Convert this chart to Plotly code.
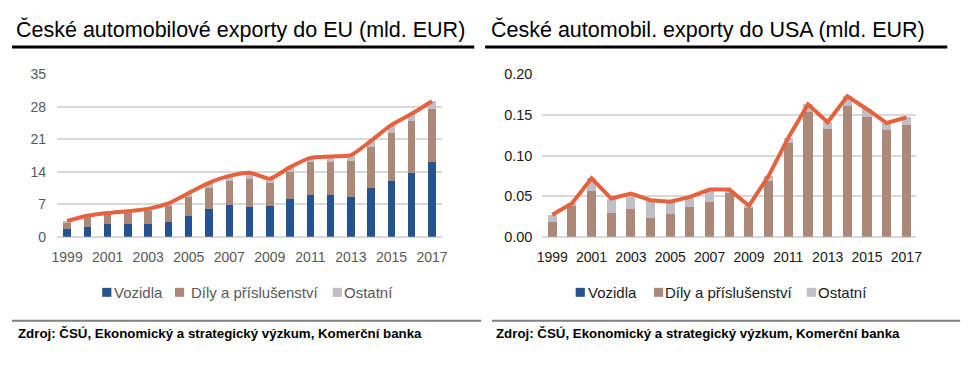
import plotly.graph_objects as go

W, H = 971, 365
OFF = 8  # page body margin in the browser

years = list(range(1999, 2018))
tick_years = list(range(1999, 2018, 2))

eu_vozidla = [1.6, 2.0, 2.8, 2.8, 2.8, 3.2, 4.4, 5.9, 6.8, 6.3, 6.7, 8.2, 9.0, 9.0, 8.6, 10.5, 12.1, 13.7, 16.0]
eu_dily = [1.3, 2.0, 1.9, 2.3, 2.8, 3.5, 4.2, 4.6, 5.3, 6.2, 4.9, 5.7, 7.0, 7.0, 7.7, 8.9, 10.3, 11.2, 11.6]
eu_ostatni = [0.5, 0.5, 0.4, 0.4, 0.4, 0.5, 0.8, 1.1, 1.0, 1.3, 0.9, 1.1, 1.0, 1.3, 1.3, 1.3, 1.7, 1.6, 1.6]

us_vozidla = [0.0] * 19
us_dily = [0.018, 0.038, 0.056, 0.029, 0.034, 0.023, 0.028, 0.036, 0.043, 0.054, 0.036, 0.069, 0.115, 0.153, 0.133, 0.161, 0.148, 0.131, 0.138]
us_ostatni = [0.009, 0.003, 0.016, 0.018, 0.019, 0.022, 0.015, 0.013, 0.015, 0.004, 0.002, 0.006, 0.007, 0.010, 0.008, 0.012, 0.009, 0.009, 0.009]

eu_ticks = [0, 7, 14, 21, 28, 35]
us_ticks = [0.0, 0.05, 0.10, 0.15, 0.20]
us_ticktext = ["0.00", "0.05", "0.10", "0.15", "0.20"]

series_names = ["Vozidla", "Díly a příslušenství", "Ostatní"]
colors = ["#255391", "#ac8878", "#c0bfc6"]
line_color = "#e4623d"

titles = ["České automobilové exporty do EU (mld. EUR)", "České automobil. exporty do USA (mld. EUR)"]
source = "Zdroj: ČSÚ, Ekonomický a strategický výzkum, Komerční banka"

FONT = "Liberation Sans, Arial, sans-serif"


def px(x):
    return (x - OFF) / W


def py(y):
    return 1 - (y - OFF) / H


eu_total = [a + b + c for a, b, c in zip(eu_vozidla, eu_dily, eu_ostatni)]
us_total = [a + b + c for a, b, c in zip(us_vozidla, us_dily, us_ostatni)]

fig = go.Figure()
for vals, name, col in zip([eu_vozidla, eu_dily, eu_ostatni], series_names, colors):
    fig.add_trace(go.Bar(x=years, y=vals, name=name, marker_color=col, marker_line_width=0,
                         width=0.37, xaxis="x", yaxis="y", showlegend=False))
fig.add_trace(go.Scatter(x=years, y=eu_total, mode="lines",
                         line=dict(color=line_color, width=4, shape="spline", smoothing=0.6),
                         xaxis="x", yaxis="y", showlegend=False))
for vals, name, col in zip([us_vozidla, us_dily, us_ostatni], series_names, colors):
    fig.add_trace(go.Bar(x=years, y=vals, name=name, marker_color=col, marker_line_width=0,
                         width=0.46, xaxis="x2", yaxis="y2", showlegend=False))
fig.add_trace(go.Scatter(x=years, y=us_total, mode="lines", line=dict(color=line_color, width=4),
                         xaxis="x2", yaxis="y2", showlegend=False))

ydom = [py(238.8), py(69)]

fig.update_layout(
    width=W, height=H, margin=dict(l=0, r=0, t=0, b=0),
    paper_bgcolor="white", plot_bgcolor="white", barmode="stack",
    font=dict(family=FONT), showlegend=False,
    xaxis=dict(domain=[px(51.5), px(441.5)], range=[1998.5, 2017.5], tickvals=tick_years,
               showgrid=False, zeroline=False, ticks="", ticklabelstandoff=10,
               tickfont=dict(family=FONT, size=14, color="#595959")),
    yaxis=dict(domain=ydom, range=[0, 35], tickvals=eu_ticks, showgrid=True, gridcolor="#d9d9d9",
               gridwidth=2, zeroline=True, zerolinecolor="#d9d9d9", zerolinewidth=2, ticks="",
               ticklabelstandoff=10, tickfont=dict(family=FONT, size=14, color="#595959")),
    xaxis2=dict(domain=[px(543), px(921.5)], range=[1998.5, 2017.5], tickvals=tick_years,
                showgrid=False, zeroline=False, ticks="", ticklabelstandoff=10, anchor="y2",
                tickfont=dict(family=FONT, size=14, color="#1a1a1a")),
    yaxis2=dict(domain=ydom, range=[0, 0.2], tickvals=us_ticks, ticktext=us_ticktext, showgrid=True,
                gridcolor="#d9d9d9", gridwidth=2, zeroline=True, zerolinecolor="#d9d9d9", zerolinewidth=2,
                ticks="", ticklabelstandoff=9, anchor="x2",
                tickfont=dict(family=FONT, size=14.5, color="#1a1a1a")),
)

shapes = []
annotations = []
# titles and underlines
for title, x0, (u0, u1) in zip(titles, [8, 489], [(6, 474), (485, 953)]):
    annotations.append(dict(text=title, x=px(x0), y=py(22.5), xref="paper", yref="paper", xanchor="left",
                            yanchor="middle", showarrow=False, font=dict(family=FONT, size=21.5, color="#000000")))
    shapes.append(dict(type="line", xref="paper", yref="paper", x0=px(u0), x1=px(u1), y0=py(40.5), y1=py(40.5),
                       line=dict(color="#000000", width=3)))
# separators and source
for (s0, s1), sx in zip([(6, 481), (492, 966)], [10, 494.5]):
    shapes.append(dict(type="line", xref="paper", yref="paper", x0=px(s0), x1=px(s1), y0=py(326.7), y1=py(326.7),
                       line=dict(color="#808080", width=2)))
    annotations.append(dict(text="<b>" + source + "</b>", x=px(sx), y=py(340.3), xref="paper", yref="paper",
                            xanchor="left", yanchor="middle", showarrow=False,
                            font=dict(family=FONT, size=13.3, color="#000000")))
# legends (colour keys drawn beside the text)
legend_squares = [[97.3, 171, 330.7], [576.7, 656, 810.7]]
legend_texts = [[107, 185, 340.5], [587.5, 665, 820]]
for sq, tx, tcol in zip(legend_squares, legend_texts, ["#595959", "#1a1a1a"]):
    for sx, tx0, name, col in zip(sq, tx, series_names, colors):
        shapes.append(dict(type="rect", xref="paper", yref="paper", x0=px(sx), x1=px(sx + 9.3),
                           y0=py(301.7), y1=py(292.3), fillcolor=col, line=dict(width=0)))
        annotations.append(dict(text=name, x=px(tx0), y=py(297), xref="paper", yref="paper",
                                xanchor="left", yanchor="middle", showarrow=False,
                                font=dict(family=FONT, size=15, color=tcol)))

fig.update_layout(shapes=shapes, annotations=annotations)
fig.write_html("out.html")
